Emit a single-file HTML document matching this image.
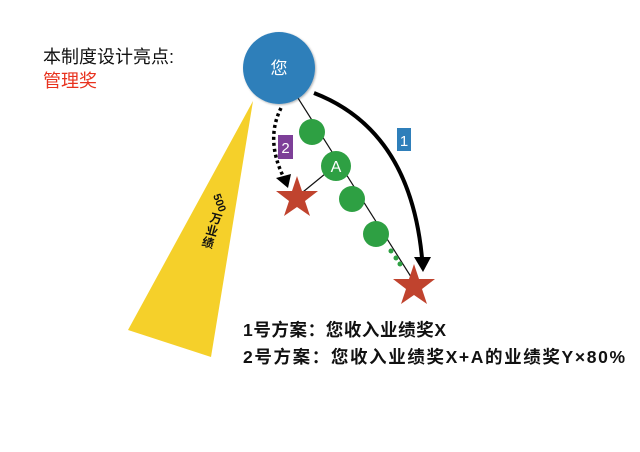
<!DOCTYPE html>
<html><head><meta charset="utf-8"><style>
html,body{margin:0;padding:0;background:#fff;}
svg{display:block;}
text{font-family:"Liberation Sans","Noto Sans CJK SC",sans-serif;}
</style></head><body>
<svg width="640" height="452" viewBox="0 0 640 452" xmlns="http://www.w3.org/2000/svg">
<defs>
<filter id="sh" x="-20%" y="-20%" width="140%" height="140%"><feDropShadow dx="1" dy="1" stdDeviation="1" flood-opacity="0.3"/></filter>
</defs>
<text x="43" y="63" font-size="18" fill="#111">本制度设计亮点:</text>
<text x="43" y="87" font-size="18" fill="#e8321e">管理奖</text>
<polygon points="253,101 128,330 211,357" fill="#f5d02a"/>
<text transform="translate(219,203) rotate(70)" font-size="11" font-weight="bold" fill="#111" text-anchor="middle" dominant-baseline="central">500</text>
<text transform="translate(216,219) rotate(15)" font-size="12" font-weight="bold" fill="#111" text-anchor="middle" dominant-baseline="central">万</text>
<text transform="translate(212,231) rotate(15)" font-size="12" font-weight="bold" fill="#111" text-anchor="middle" dominant-baseline="central">业</text>
<text transform="translate(208,243) rotate(15)" font-size="12" font-weight="bold" fill="#111" text-anchor="middle" dominant-baseline="central">绩</text>
<line x1="279" y1="68" x2="413" y2="280" stroke="#111" stroke-width="1.2"/>
<line x1="336" y1="165" x2="298" y2="196" stroke="#111" stroke-width="1.2"/>
<circle cx="279" cy="68" r="36" fill="#2f7fba" filter="url(#sh)"/>
<text x="279" y="74" font-size="17" fill="#fff" text-anchor="middle">您</text>
<circle cx="312" cy="132" r="13" fill="#2ea043"/>
<circle cx="336" cy="166" r="15" fill="#2ea043"/>
<text x="336" y="172" font-size="16" fill="#fff" text-anchor="middle">A</text>
<circle cx="352" cy="199" r="13" fill="#2ea043"/>
<circle cx="376" cy="234" r="13" fill="#2ea043"/>
<circle cx="391" cy="251" r="2.5" fill="#2ea043"/>
<circle cx="396" cy="258" r="2.5" fill="#2ea043"/>
<circle cx="400" cy="264" r="2.5" fill="#2ea043"/>
<path d="M314,93 Q410,130 422,258" fill="none" stroke="#000" stroke-width="4"/>
<polygon points="414,257 431,257 423,272" fill="#000"/>
<path d="M281,108 Q265,140 284,178" fill="none" stroke="#000" stroke-width="3.5" stroke-dasharray="3,3"/>
<polygon points="276,178 291,174 288,188" fill="#000"/>
<polygon fill="#c0432e" transform="translate(297,198)" points="0,-22 5,-7 21,-7 8,3 13,18 0,9 -13,18 -8,3 -21,-7 -5,-7"/>
<polygon fill="#c0432e" transform="translate(414,286)" points="0,-22 5,-7 21,-7 8,3 13,18 0,9 -13,18 -8,3 -21,-7 -5,-7"/>
<rect x="397" y="128" width="14" height="23" fill="#2f7fba"/>
<text x="404" y="146" font-size="15" fill="#fff" text-anchor="middle">1</text>
<rect x="278" y="135" width="15" height="24" fill="#7d3f98"/>
<text x="285.5" y="153" font-size="15" fill="#fff" text-anchor="middle">2</text>
<text x="243" y="336" font-size="17.5" font-weight="bold" fill="#111" textLength="203" lengthAdjust="spacing">1号方案：您收入业绩奖X</text>
<text x="243" y="363" font-size="17.5" font-weight="bold" fill="#111" textLength="382" lengthAdjust="spacing">2号方案：您收入业绩奖X+A的业绩奖Y×80%</text>
</svg>
</body></html>
